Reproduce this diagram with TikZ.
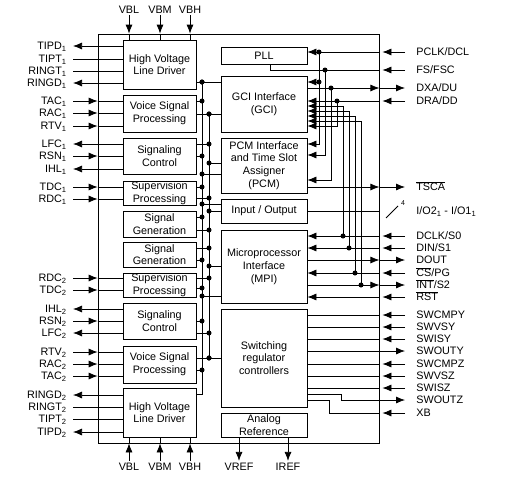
\documentclass[tikz,border=0pt]{standalone}
\usepackage{fontspec}
\setmainfont{Liberation Sans}
\usetikzlibrary{arrows.meta}
\newcommand{\ovl}[1]{$\overline{\mbox{#1}}$}
\begin{document}
\begin{tikzpicture}[x=1pt,y=-1pt,line width=0.75pt,
    font=\fontsize{10.8}{12.7}\selectfont,
    blk/.style={draw,align=center,inner sep=0pt},
    lpin/.style={anchor=east,inner xsep=6pt,inner ysep=0pt,text height=7.5pt,text depth=0pt},
    rpin/.style={anchor=west,inner xsep=11pt,inner ysep=0pt,text height=7.5pt,text depth=0pt},
    vpin/.style={inner sep=2pt,text height=7.5pt,text depth=0pt},
    tip/.style={-{Latex[length=9pt,width=7pt]}}]
    \useasboundingbox (0,0) rectangle (505,479);
    \node[draw,minimum width=281pt,minimum height=409pt,inner sep=0pt] (chip) at (238.5,238.5) {};

    \node[blk,minimum width=73pt,minimum height=49pt] (hv1) at (159.5,64.5) {High Voltage\\Line Driver};
    \node[blk,minimum width=73pt,minimum height=37pt] (vsp1) at (159.5,113.5) {Voice Signal\\Processing};
    \node[blk,minimum width=73pt,minimum height=36pt] (sc1) at (159.5,156) {Signaling\\Control};
    \node[blk,minimum width=73pt,minimum height=24pt] (sp1) at (159.5,193) {Supervision\\Processing};
    \node[blk,minimum width=73pt,minimum height=26pt] (sg1) at (159.5,224) {Signal\\Generation};
    \node[blk,minimum width=73pt,minimum height=25pt] (sg2) at (159.5,254.5) {Signal\\Generation};
    \node[blk,minimum width=73pt,minimum height=24pt] (sp2) at (159.5,285) {Supervision\\Processing};
    \node[blk,minimum width=73pt,minimum height=36pt] (sc2) at (159.5,321) {Signaling\\Control};
    \node[blk,minimum width=73pt,minimum height=37pt] (vsp2) at (159.5,364.5) {Voice Signal\\Processing};
    \node[blk,minimum width=73pt,minimum height=49pt] (hv2) at (159.5,412.5) {High Voltage\\Line Driver};

    \node[blk,minimum width=86pt,minimum height=17pt] (pll) at (264,55.5) {PLL};
    \node[blk,minimum width=86pt,minimum height=56pt] (gci) at (264,104) {GCI Interface\\(GCI)};
    \node[blk,minimum width=86pt,minimum height=55pt] (pcm) at (264,165.5) {PCM Interface\\and Time Slot\\Assigner\\(PCM)};
    \node[blk,minimum width=86pt,minimum height=24pt] (io) at (264,211) {Input / Output};
    \node[blk,minimum width=86pt,minimum height=73pt] (mpi) at (264,266.5) {Microprocessor\\Interface\\(MPI)};
    \node[blk,minimum width=86pt,minimum height=98pt] (swr) at (264,358) {Switching\\regulator\\controllers};
    \node[blk,minimum width=86pt,minimum height=24pt] (aref) at (264,425) {Analog\\Reference};

    \node[vpin] (vbl1) at (129,9.3) {VBL};
    \node[vpin] (vbm1) at (160,9.3) {VBM};
    \node[vpin] (vbh1) at (190,9.3) {VBH};
    \node[vpin] (vbl2) at (129,467) {VBL};
    \node[vpin] (vbm2) at (160,467) {VBM};
    \node[vpin] (vbh2) at (190,467) {VBH};
    \node[vpin] (vref) at (239,467) {VREF};
    \node[vpin] (iref) at (288,467) {IREF};
    \foreach \p in {vbl1,vbm1,vbh1} {
        \draw[tip] (\p.south) -- (\p.south |- chip.north);
        \draw (\p.south |- chip.north) -- (\p.south |- hv1.north);
    }
    \foreach \p in {vbl2,vbm2,vbh2} {
        \draw[tip] (\p.north) -- (\p.north |- chip.south);
        \draw (\p.north |- chip.south) -- (\p.north |- hv2.south);
    }
    \draw[tip] (vref.north |- aref.south) -- (vref.north);
    \draw[tip] (iref.north |- aref.south) -- (iref.north);

    \node[lpin] (tipd1) at (73,46) {TIPD\textsubscript{1}};
    \node[lpin] (tipt1) at (73,59) {TIPT\textsubscript{1}};
    \node[lpin] (ringt1) at (73,71) {RINGT\textsubscript{1}};
    \node[lpin] (ringd1) at (73,83) {RINGD\textsubscript{1}};
    \node[lpin] (tac1) at (73,101) {TAC\textsubscript{1}};
    \node[lpin] (rac1) at (73,113) {RAC\textsubscript{1}};
    \node[lpin] (rtv1) at (73,126) {RTV\textsubscript{1}};
    \node[lpin] (lfc1) at (73,144) {LFC\textsubscript{1}};
    \node[lpin] (rsn1) at (73,156) {RSN\textsubscript{1}};
    \node[lpin] (ihl1) at (73,169) {IHL\textsubscript{1}};
    \node[lpin] (tdc1) at (73,187) {TDC\textsubscript{1}};
    \node[lpin] (rdc1) at (73,199) {RDC\textsubscript{1}};
    \node[lpin] (rdc2) at (73,278) {RDC\textsubscript{2}};
    \node[lpin] (tdc2) at (73,290) {TDC\textsubscript{2}};
    \node[lpin] (ihl2) at (73,309) {IHL\textsubscript{2}};
    \node[lpin] (rsn2) at (73,321) {RSN\textsubscript{2}};
    \node[lpin] (lfc2) at (73,333) {LFC\textsubscript{2}};
    \node[lpin] (rtv2) at (73,352) {RTV\textsubscript{2}};
    \node[lpin] (rac2) at (73,364) {RAC\textsubscript{2}};
    \node[lpin] (tac2) at (73,376) {TAC\textsubscript{2}};
    \node[lpin] (ringd2) at (73,395) {RINGD\textsubscript{2}};
    \node[lpin] (ringt2) at (73,407) {RINGT\textsubscript{2}};
    \node[lpin] (tipt2) at (73,419) {TIPT\textsubscript{2}};
    \node[lpin] (tipd2) at (73,432) {TIPD\textsubscript{2}};

    \foreach \p/\b in {tipd1/hv1,ringd1/hv1,lfc1/sc1,ihl1/sc1,ihl2/sc2,lfc2/sc2,ringd2/hv2,tipd2/hv2}
        \draw[tip] (\b.west |- \p.east) -- (\p.east);
    \foreach \p/\b in {tipt1/hv1,ringt1/hv1,ringt2/hv2,tipt2/hv2}
        \draw (\p.east) -- (\b.west |- \p.east);
    \foreach \p/\b in {tac1/vsp1,rac1/vsp1,rtv1/vsp1,rsn1/sc1,tdc1/sp1,rdc1/sp1,rdc2/sp2,tdc2/sp2,rsn2/sc2,rtv2/vsp2,rac2/vsp2,tac2/vsp2} {
        \draw[tip] (\p.east) -- (chip.west |- \p.east);
        \draw (chip.west |- \p.east) -- (\b.west |- \p.east);
    }

    \coordinate (busa) at (202,0);
    \coordinate (busb) at (209,0);
    \draw (busa |- 0,82) -- (busa |- 0,394) -- (hv2.east |- 0,394);
    \draw (busb |- 0,114) -- (busb |- 0,358);
    \foreach \y/\b in {82/hv1,101/vsp1,156/sc1,187/sp1,217/sg1,260/sg2,288/sp2,321/sc2,370/vsp2} {
        \draw (\b.east |- 0,\y) -- (busa |- 0,\y);
        \fill (busa |- 0,\y) circle (2.5pt);
    }
    \foreach \y/\b in {114/vsp1,144/sc1,198/sp1,230/sg1,248/sg2,278/sp2,333/sc2,358/vsp2} {
        \draw (\b.east |- 0,\y) -- (busb |- 0,\y);
        \fill (busb |- 0,\y) circle (2.5pt);
    }
    \foreach \y/\b in {82/gci,174/pcm,204/io,296/mpi} {
        \draw (busa |- 0,\y) -- (\b.west |- 0,\y);
        \fill (busa |- 0,\y) circle (2.5pt);
    }
    \foreach \y/\b in {114/gci,163/pcm,211/io,266/mpi,358/swr} {
        \draw (busb |- 0,\y) -- (\b.west |- 0,\y);
        \fill (busb |- 0,\y) circle (2.5pt);
    }

    \node[rpin] (pclk) at (405,52) {PCLK/DCL};
    \node[rpin] (fs) at (405,70) {FS/FSC};
    \node[rpin] (dxa) at (405,88) {DXA/DU};
    \node[rpin] (dra) at (405,101) {DRA/DD};
    \node[rpin] (tsca) at (405,187) {\ovl{TSCA}};
    \node[rpin] (iol) at (405,211) {I/O2\textsubscript{1} - I/O1\textsubscript{1}};
    \node[rpin] (dclk) at (405,236) {DCLK/S0};
    \node[rpin] (din) at (405,248) {DIN/S1};
    \node[rpin] (dout) at (405,260) {DOUT};
    \node[rpin] (cs) at (405,273) {\ovl{CS}/PG};
    \node[rpin] (int) at (405,285) {\ovl{INT}/S2};
    \node[rpin] (rst) at (405,297) {\ovl{RST}};
    \node[rpin] (swcmpy) at (405,315) {SWCMPY};
    \node[rpin] (swvsy) at (405,327) {SWVSY};
    \node[rpin] (swisy) at (405,339) {SWISY};
    \node[rpin] (swouty) at (405,351) {SWOUTY};
    \node[rpin] (swcmpz) at (405,364) {SWCMPZ};
    \node[rpin] (swvsz) at (405,376) {SWVSZ};
    \node[rpin] (swisz) at (405,388) {SWISZ};
    \node[rpin] (swoutz) at (405,400) {SWOUTZ};
    \node[rpin] (xb) at (405,413) {XB};

    \foreach \p/\b in {pclk/pll,dra/gci,dclk/mpi,din/mpi,cs/mpi,rst/mpi} {
        \draw[tip] (\p.west) -- ([xshift=3pt]chip.east |- \p.west);
        \draw[tip] (chip.east |- \p.west) -- (\b.east |- \p.west);
    }
    \foreach \p/\b in {dxa/gci,tsca/pcm,dout/mpi,int/mpi} {
        \draw[tip] (\b.east |- \p.west) -- (chip.east |- \p.west);
        \draw[tip] (chip.east |- \p.west) -- (\p.west);
    }
    \foreach \p in {swcmpy,swvsy,swisy,swcmpz,swvsz,swisz} {
        \draw[tip] (\p.west) -- ([xshift=3pt]chip.east |- \p.west);
        \draw (chip.east |- \p.west) -- (swr.east |- \p.west);
    }
    \draw[tip] (swr.east |- swouty.west) -- (swouty.west);
    \coordinate (sz) at (341,394);
    \coordinate (xbc) at (329,400);
    \draw[tip] (swr.east |- sz) -| (sz) |- (swoutz.west);
    \draw[tip] (xb.west) -- ([xshift=3pt]chip.east |- xb.west);
    \draw (chip.east |- xb.west) -| (xbc) -- (swr.east |- xbc);

    \draw[tip] (fs.west) -- ([xshift=3pt]chip.east |- fs.west);
    \draw (chip.east |- fs.west) -| ([xshift=6pt]pll.south);
    \draw (io.east) -- (chip.east |- io.east);
    \draw (386,218) -- (398,206);
    \node[font=\fontsize{7}{8}\selectfont,inner sep=0pt] (bw) at (403,203) {4};

    \coordinate (v1) at (319,0);
    \coordinate (v2) at (325,0);
    \coordinate (v3) at (331,0);
    \coordinate (v4) at (337,0);
    \coordinate (v5) at (343,0);
    \coordinate (v6) at (349,0);
    \coordinate (v7) at (355,0);
    \coordinate (v8) at (361,0);
    \draw[tip] (v1 |- pclk.west) |- (pcm.east |- 0,144);
    \draw[tip] (v1 |- 0,82) -- (gci.east |- 0,82);
    \draw[tip] (v2 |- fs.west) |- (pcm.east |- 0,155);
    \draw[tip] (v3 |- dxa.west) |- (pcm.east |- 0,180);
    \draw[tip] (v4 |- dra.west) |- (gci.east |- 0,126);
    \draw[tip] (v5 |- dclk.west) |- (gci.east |- 0,106);
    \draw[tip] (v6 |- din.west) |- (gci.east |- 0,111);
    \draw[tip] (v7 |- cs.west) |- (gci.east |- 0,116);
    \draw[tip] (v8 |- int.west) |- (gci.east |- 0,121);
    \foreach \c in {{v1 |- pclk.west},{v1 |- 0,82},{v2 |- fs.west},{v3 |- dxa.west},{v4 |- dra.west},{v5 |- dclk.west},{v6 |- din.west},{v7 |- cs.west},{v8 |- int.west}}
        \fill (\c) circle (2.5pt);
\end{tikzpicture}
\end{document}
